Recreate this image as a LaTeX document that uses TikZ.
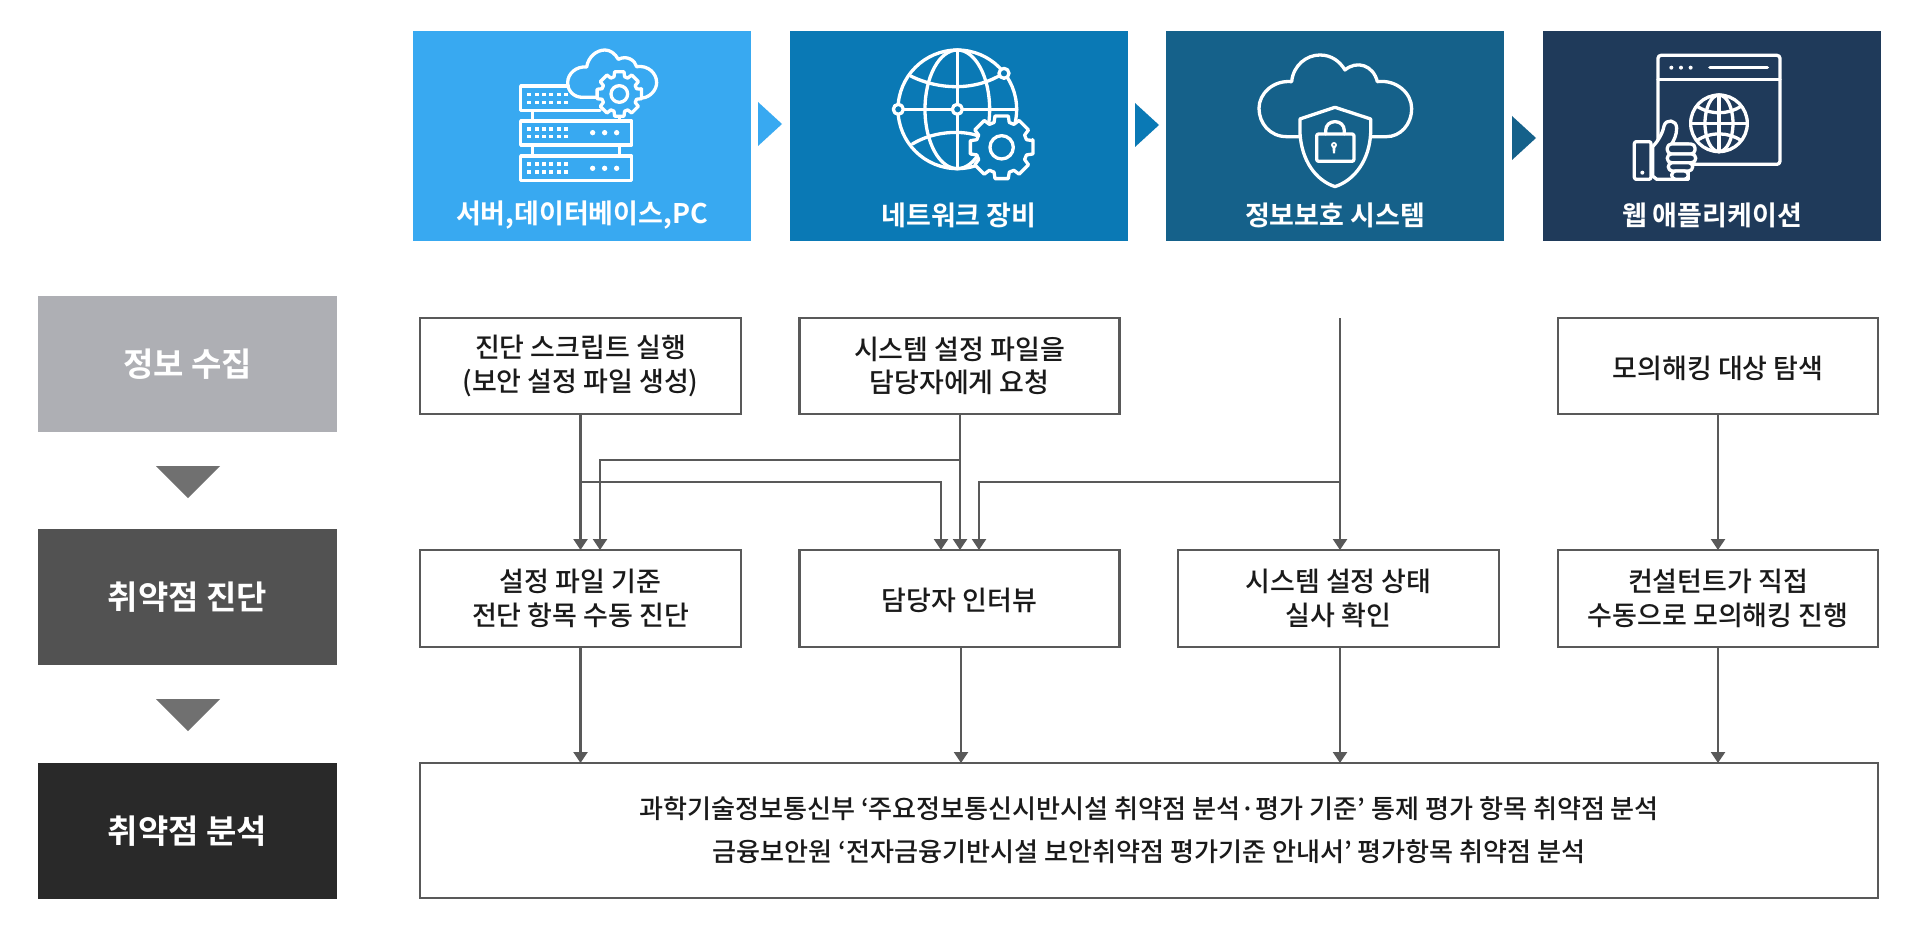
\documentclass[tikz,border=0pt]{standalone}
\usepackage{fontspec}
\setmainfont{Noto Sans CJK KR Medium}
\newfontfamily\krbold{Noto Sans CJK KR Bold}
\usetikzlibrary{arrows.meta}
\definecolor{hA}{HTML}{38A9F1}
\definecolor{hB}{HTML}{0A79B5}
\definecolor{hC}{HTML}{15618A}
\definecolor{hD}{HTML}{1F3A5A}
\definecolor{lA}{HTML}{AEAFB4}
\definecolor{lB}{HTML}{525252}
\definecolor{lC}{HTML}{292929}
\definecolor{tri}{HTML}{707070}
\definecolor{ln}{HTML}{595959}
\definecolor{txt}{HTML}{1A1A1A}
\tikzset{
 head/.style={fill=#1,minimum width=338pt,minimum height=210pt,inner sep=0,outer sep=0,anchor=north west},
 headlabel/.style={text=white,font=\krbold\fontsize{27}{30}\selectfont,anchor=center,inner sep=0},
 side/.style={fill=#1,minimum width=299pt,minimum height=136pt,inner sep=0,outer sep=0,anchor=north west,text=white,font=\krbold\fontsize{33}{36}\selectfont},
 stepbox/.style={draw=ln,line width=2.4pt,fill=white,inner sep=0,outer sep=0,anchor=north west,text=txt,align=center,font=\fontsize{27}{33.5}\selectfont,execute at begin node={\rule{0pt}{27pt}}},
 wire/.style={draw=ln,line width=2.4pt},
 arr/.style={wire,-{Triangle[length=11pt,width=14pt]}},
 ic/.style={draw=white,line width=3.3pt,line join=round,line cap=round},
}
\newcommand{\gearshape}[5]{% cx cy ro ri bg
 \begin{scope}[shift={(#1,#2)}]
 \filldraw[ic,fill=#5] (-14:#3)
  \foreach \a in {0,45,...,315}{
   -- ({\a-12}:#3) -- ({\a+12}:#3) -- ({\a+17}:#4) -- ({\a+28}:#4) -- ({\a+33}:#3)
  } -- cycle;
 \end{scope}}
\begin{document}
\begin{tikzpicture}[x=1pt,y=-1pt]
\useasboundingbox[fill=white] (0,0) rectangle (1920,928);
% headers
\node[head=hA] (h1) at (413,31) {};
\node[head=hB] (h2) at (790,31) {};
\node[head=hC] (h3) at (1166,31) {};
\node[head=hD] (h4) at (1543,31) {};
\node[headlabel] (t1) at (582,215) {서버,데이터베이스,PC};
\node[headlabel] (t2) at (959,215) {네트워크 장비};
\node[headlabel] (t3) at (1335,215) {정보보호 시스템};
\node[headlabel] (t4) at (1712,215) {웹 애플리케이션};
\fill[hA] (758,102) -- (782,124) -- (758,146) -- cycle;
\fill[hB] (1135,103) -- (1159,125) -- (1135,147) -- cycle;
\fill[hC] (1512,116) -- (1536,138) -- (1512,160) -- cycle;
% side
\node[side=lA] (s1) at (38,296) {정보 수집};
\node[side=lB] (s2) at (38,529) {취약점 진단};
\node[side=lC] (s3) at (38,763) {취약점 분석};
\fill[tri] (156,466) -- (220,466) -- (188,498) -- cycle;
\fill[tri] (156,699) -- (220,699) -- (188,731) -- cycle;
% step boxes
\node[stepbox,minimum width=321pt,minimum height=96pt] (a1) at (420,318) {진단 스크립트 실행\\(보안 설정 파일 생성)};
\node[stepbox,minimum width=320pt,minimum height=96pt] (a2) at (799.5,318) {시스템 설정 파일을\\담당자에게 요청};
\coordinate (a3) at (1340,318);
\node[stepbox,minimum width=320pt,minimum height=96pt] (a4) at (1558,318) {모의해킹 대상 탐색};
\node[stepbox,minimum width=321pt,minimum height=97pt] (b1) at (420,550) {설정 파일 기준\\전단 항목 수동 진단};
\node[stepbox,minimum width=320pt,minimum height=97pt] (b2) at (799.5,550) {담당자 인터뷰};
\node[stepbox,minimum width=321pt,minimum height=97pt] (b3) at (1178,550) {시스템 설정 상태\\실사 확인};
\node[stepbox,minimum width=320pt,minimum height=97pt] (b4) at (1558,550) {컨설턴트가 직접\\수동으로 모의해킹 진행};
\node[stepbox,minimum width=1458pt,minimum height=135pt,font=\fontsize{26.1}{43}\selectfont] (c) at (420,763) {과학기술정보통신부 ‘주요정보통신시반시설 취약점 분석·평가 기준’ 통제 평가 항목 취약점 분석\\금융보안원 ‘전자금융기반시설 보안취약점 평가기준 안내서’ 평가항목 취약점 분석};
% connectors
\draw[arr] (a1.south -| 580.5,0) -- (b1.north -| 580.5,0);
\draw[arr] (a2.south -| 960,0) -- (b2.north -| 960,0);
\draw[arr] (a3) -- (1340,550);
\draw[arr] (a4.south -| 1718,0) -- (b4.north -| 1718,0);
\draw[arr] (960,460) -- (600,460) -- (600,550);
\draw[arr] (580.5,482) -- (941,482) -- (941,550);
\draw[arr] (1340,482) -- (979,482) -- (979,550);
\draw[arr] (b1.south -| 580.5,0) -- (c.north -| 580.5,0);
\draw[arr] (b2.south -| 961,0) -- (c.north -| 961,0);
\draw[arr] (b3.south -| 1340,0) -- (c.north -| 1340,0);
\draw[arr] (b4.south -| 1718,0) -- (c.north -| 1718,0);
% icon 1
\begin{scope}[shift={(400,20)},x=.3333pt,y=-.3333pt]
 \draw[ic] (505,198) -- (362,198) -- (362,272) -- (600,272);
 \draw[ic] (362,303) rectangle (695,375);
 \draw[ic] (362,408) rectangle (695,482);
 \draw[ic] (397,272) -- (397,303) (397,375) -- (397,408) (658,285) -- (658,303) (658,375) -- (658,408);
 \foreach \y in {224,247,327,350,432,456}{
  \foreach \x in {388,410,432,454,476,498}{
   \fill[white] (\x-6,\y-5) rectangle (\x+6,\y+5);
  }}
 \foreach \y in {338,445}{
  \foreach \x in {578,614,650}{
   \fill[white] (\x,\y) circle (8);
  }}
 \draw[ic] (590,232) -- (548,232) .. controls (520,232) and (503,212) .. (503,188)
   .. controls (503,160) and (530,138) .. (560,141)
   .. controls (565,110) and (590,90) .. (615,90)
   .. controls (630,90) and (645,100) .. (655,118)
   .. controls (680,105) and (705,120) .. (710,140)
   .. controls (745,135) and (770,160) .. (770,188)
   .. controls (770,210) and (750,232) .. (727,234);
 \gearshape{658}{222}{68}{54}{hA}
 \draw[ic] (658,222) circle (25);
\end{scope}
% icon 2
\begin{scope}[shift={(780,20)},x=.3333pt,y=-.3333pt]
 \draw[ic] (532,268) circle (178);
 \draw[ic] (532,268) ellipse (97 and 178);
 \draw[ic] (532,90) -- (532,445);
 \draw[ic] (355,268) -- (710,268);
 \draw[ic] (392,168) .. controls (480,212) and (590,212) .. (670,160);
 \draw[ic] (397,372) .. controls (470,328) and (560,332) .. (600,350);
 \gearshape{665}{382}{96}{78}{hB}
 \draw[ic] (665,382) circle (35);
 \foreach \x/\y in {355/268,532/268,672/160}{
  \filldraw[ic,fill=hB] (\x,\y) circle (15);
 }
\end{scope}
% icon 3
\begin{scope}[shift={(1160,20)},x=.3333pt,y=-.3333pt]
 \draw[ic] (417,350) -- (380,350) .. controls (330,350) and (297,310) .. (297,265)
   .. controls (297,220) and (340,180) .. (395,185)
   .. controls (400,135) and (440,105) .. (480,105)
   .. controls (515,105) and (540,125) .. (555,150)
   .. controls (590,120) and (640,135) .. (652,185)
   .. controls (710,178) and (755,220) .. (755,265)
   .. controls (755,315) and (720,350) .. (680,350) -- (635,350);
 \draw[ic] (525,262) -- (420,297) -- (420,340) .. controls (425,420) and (465,480) .. (525,500)
   .. controls (585,480) and (628,420) .. (632,340) -- (632,297) -- cycle;
 \draw[ic,rounded corners=2pt] (470,342) rectangle (582,424);
 \draw[ic] (497,342) -- (497,332) .. controls (497,315) and (510,305) .. (525,305) .. controls (540,305) and (553,315) .. (553,332) -- (553,342);
 \fill[white] (522,375) circle (9);
 \fill[white] (517,378) -- (527,378) -- (525,400) -- (519,400) -- cycle;
 \fill[hC] (522,375) circle (3);
\end{scope}
% icon 4
\begin{scope}[shift={(1540,20)},x=.3333pt,y=-.3333pt]
 \draw[ic,rounded corners=3pt] (354,106) rectangle (720,433);
 \draw[ic] (354,178) -- (720,178);
 \foreach \x in {394,423,452}{\fill[white] (\x,143) circle (6);}
 \draw[white,line width=3.6pt,line cap=round] (510,143) -- (682,143);
 \draw[ic] (537,310) circle (85);
 \draw[ic] (537,310) ellipse (42 and 85);
 \draw[ic] (537,225) -- (537,395);
 \draw[ic] (452,310) -- (622,310);
 \draw[ic] (470,258) .. controls (510,285) and (565,285) .. (604,258);
 \draw[ic] (470,362) .. controls (510,335) and (565,335) .. (604,362);
 \filldraw[ic,fill=hD] (338,380) .. controls (355,362) and (368,340) .. (372,318)
    .. controls (378,296) and (410,298) .. (410,325)
    .. controls (410,345) and (402,360) .. (395,372) -- (445,372) -- (445,478) -- (350,478) -- (338,468) -- cycle;
 \foreach \t/\b/\l/\r in {372/402/382/465,402/428/382/467,428/453/385/458,453/478/395/445}{
  \filldraw[ic,fill=hD,rounded corners=4pt] (\l,\t) rectangle (\r,\b);
 }
 \draw[ic,rounded corners=2pt] (283,365) rectangle (333,478);
 \fill[white] (307,458) circle (6);
\end{scope}
\end{tikzpicture}
\end{document}
